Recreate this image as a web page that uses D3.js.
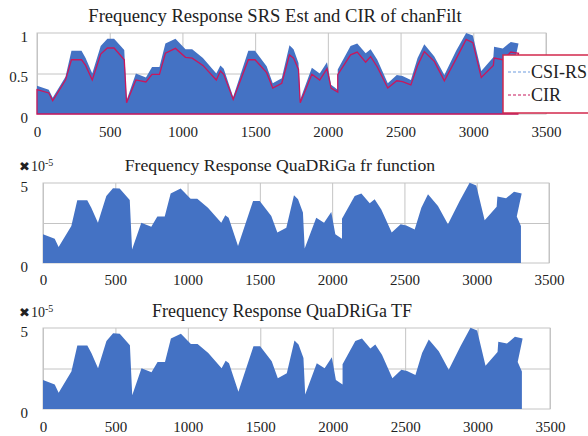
<!DOCTYPE html>
<html>
<head>
<meta charset="utf-8">
<script src="https://cdn.jsdelivr.net/npm/d3@7"></script>
<style>
  body { margin: 0; background: #fff; }
  svg text { font-family: "Liberation Serif", "DejaVu Serif", serif; fill: #222; }
</style>
</head>
<body>
<div id="chart-container"></div>
<script>
// subcarrier positions of the read-off vertices (shared by every curve)
const subcarrier = [0, 81, 108, 196, 237, 306, 334, 380, 438, 484, 530, 600, 616, 680, 749, 791, 842, 883, 952, 1021,
  1067, 1141, 1233, 1261, 1284, 1349, 1453, 1499, 1579, 1621, 1683, 1736, 1764, 1798, 1810, 1890, 1944, 1994, 2022, 2068,
  2068, 2156, 2202, 2260, 2294, 2340, 2412, 2474, 2513, 2571, 2617, 2663, 2732, 2801, 2882, 2951, 2997, 3055, 3138, 3143,
  3203, 3258, 3311, 3277, 3306];

// top panel, normalised magnitude
const csiRs = [0.35, 0.30, 0.20, 0.46, 0.78, 0.78, 0.69, 0.50, 0.84, 0.93, 0.93, 0.79, 0.17, 0.50, 0.45, 0.58, 0.58, 0.87, 0.93, 0.80,
  0.80, 0.69, 0.50, 0.60, 0.56, 0.21, 0.78, 0.78, 0.59, 0.38, 0.44, 0.85, 0.80, 0.63, 0.18, 0.57, 0.50, 0.64, 0.36, 0.30,
  0.55, 0.84, 0.87, 0.75, 0.80, 0.67, 0.38, 0.48, 0.47, 0.42, 0.69, 0.86, 0.71, 0.48, 0.78, 1.00, 0.97, 0.53, 0.70, 0.83,
  0.81, 0.89, 0.87, 0.58, 0.46];
const cir = [0.30, 0.26, 0.165, 0.42, 0.67, 0.67, 0.60, 0.42, 0.74, 0.815, 0.815, 0.67, 0.14, 0.42, 0.395, 0.49, 0.49, 0.75, 0.81, 0.70,
  0.69, 0.60, 0.42, 0.53, 0.49, 0.18, 0.67, 0.67, 0.51, 0.32, 0.38, 0.73, 0.69, 0.55, 0.14, 0.49, 0.42, 0.56, 0.32, 0.27,
  0.485, 0.73, 0.765, 0.64, 0.71, 0.58, 0.32, 0.41, 0.40, 0.36, 0.60, 0.77, 0.65, 0.41, 0.68, 0.92, 0.88, 0.45, 0.60, 0.69,
  0.67, 0.765, 0.75, 0.50, 0.40];

// QuaDRiGa panels, x 1e-5
const qdFr = [1.79, 1.52, 1.00, 2.31, 3.92, 3.92, 3.46, 2.52, 4.19, 4.67, 4.65, 3.94, 0.85, 2.52, 2.27, 2.90, 2.90, 4.35, 4.65, 4.02,
  4.02, 3.46, 2.52, 2.98, 2.83, 1.06, 3.88, 3.88, 2.94, 1.90, 2.21, 4.23, 3.98, 3.15, 0.90, 2.83, 2.52, 3.19, 1.79, 1.52,
  2.77, 4.19, 4.35, 3.73, 3.98, 3.35, 1.90, 2.42, 2.35, 2.10, 3.46, 4.29, 3.56, 2.42, 3.88, 5.02, 4.85, 2.67, 3.52, 4.15,
  4.04, 4.46, 4.35, 2.90, 2.31];
const qdTf = [1.79, 1.52, 1.00, 2.31, 3.92, 3.92, 3.46, 2.52, 4.19, 4.67, 4.65, 3.94, 0.85, 2.52, 2.27, 2.90, 2.90, 4.35, 4.65, 4.02,
  4.02, 3.46, 2.52, 2.98, 2.83, 1.06, 3.88, 3.88, 2.94, 1.90, 2.21, 4.23, 3.98, 3.15, 0.90, 2.83, 2.52, 3.19, 1.79, 1.52,
  2.77, 4.19, 4.35, 3.73, 3.98, 3.35, 1.90, 2.42, 2.35, 2.10, 3.46, 4.29, 3.56, 2.42, 3.88, 5.02, 4.85, 2.67, 3.52, 4.15,
  4.04, 4.46, 4.35, 2.90, 2.31];

const xTicks = [0, 500, 1000, 1500, 2000, 2500, 3000, 3500];
const titles = ["Frequency Response SRS Est and CIR of chanFilt",
  "Frequency Response QuaDRiGa fr function",
  "Frequency Response QuaDRiGa TF"];
const legendLabels = ["CSI-RS", "CIR"];

const blue = "#4472c4";
const red = "#c8175d";
const grid = "#c4c4c4";
const serif = "'Liberation Serif', 'DejaVu Serif', serif";

const svg = d3.select("#chart-container").append("svg")
  .attr("width", 588).attr("height", 436);

function panel(opt) {
  const x = d3.scaleLinear().domain([0, 3500]).range([opt.left, opt.right]);
  const y = d3.scaleLinear().domain([0, opt.yMax]).range([opt.bottom, opt.top]);
  const g = svg.append("g");

  // gridlines
  g.append("g")
    .attr("transform", `translate(0,${opt.bottom})`)
    .call(d3.axisBottom(x).tickValues(xTicks).tickSize(-(opt.bottom - opt.top)).tickFormat(""))
    .call(s => s.select(".domain").remove())
    .call(s => s.selectAll("line").attr("stroke", grid));
  g.append("g")
    .attr("transform", `translate(${opt.left},0)`)
    .call(d3.axisLeft(y).tickValues(opt.gridY).tickSize(-(opt.right - opt.left)).tickFormat(""))
    .call(s => s.select(".domain").remove())
    .call(s => s.selectAll("line").attr("stroke", grid));
  g.append("rect")
    .attr("x", opt.left).attr("y", opt.top)
    .attr("width", opt.right - opt.left).attr("height", opt.bottom - opt.top)
    .attr("fill", "none").attr("stroke", grid);

  const area = d3.area()
    .x((d, i) => x(subcarrier[i]))
    .y0(y(0))
    .y1(d => y(d));

  g.append("path").datum(opt.values).attr("d", area).attr("fill", blue);
  if (opt.line) {
    g.append("path").datum(opt.line).attr("d", area)
      .attr("fill", "none").attr("stroke", red).attr("stroke-width", 1.3);
  }

  // tick labels
  g.append("g")
    .attr("transform", `translate(0,${opt.bottom})`)
    .call(d3.axisBottom(x).tickValues(xTicks).tickSize(0).tickPadding(opt.xPad).tickFormat(d3.format("d")))
    .call(s => s.select(".domain").remove())
    .call(s => s.selectAll("text").style("font-family", serif).style("font-size", "15px").attr("fill", "#222"));
  g.append("g")
    .attr("transform", `translate(${opt.labelX},0)`)
    .call(d3.axisLeft(y).tickValues(opt.labelY).tickSize(0).tickPadding(0).tickFormat(d => String(d)))
    .call(s => s.select(".domain").remove())
    .call(s => s.selectAll("text").style("font-family", serif).style("font-size", "15px")
      .attr("fill", "#222").attr("dy", "0.55em"));

  g.append("text")
    .attr("x", opt.titleX).attr("y", opt.titleY)
    .attr("text-anchor", "middle").style("font-size", opt.titleSize + "px")
    .text(opt.title);

  if (opt.exponent) {
    const t = g.append("text").attr("x", 19).attr("y", opt.titleY).style("font-size", "14px");
    t.append("tspan").style("font-family", "'DejaVu Sans'").style("font-size", "13px").text("\u2716");
    t.append("tspan").attr("dx", 1).text("10");
    t.append("tspan").attr("dy", -5).style("font-size", "10px").text("-5");
  }
  return g;
}

panel({ left: 37, right: 546, top: 33, bottom: 114, yMax: 1, gridY: [0.5], labelY: [0, 0.5, 1],
  labelX: 28, xPad: 12, values: csiRs, line: cir, title: titles[0], titleX: 275, titleY: 22, titleSize: 18.6 });
panel({ left: 43, right: 549, top: 183, bottom: 263, yMax: 5, gridY: [2.5], labelY: [0, 5],
  labelX: 28, xPad: 11, values: qdFr, title: titles[1], titleX: 280, titleY: 171, titleSize: 17.7, exponent: true });
panel({ left: 43, right: 550, top: 328, bottom: 409, yMax: 5, gridY: [2.5], labelY: [0, 5],
  labelX: 28, xPad: 12, values: qdTf, title: titles[2], titleX: 282, titleY: 317, titleSize: 18, exponent: true });

// legend of the top panel (runs off the right edge)
const lg = svg.append("g");
lg.append("rect").attr("x", 503).attr("y", 55).attr("width", 110).attr("height", 58)
  .attr("fill", "#fff").attr("stroke", "#d2284c").attr("stroke-width", 1.5);
[["#6d9be0", 72], [red, 95]].forEach((e, i) => {
  lg.append("line").attr("x1", 508).attr("x2", 530).attr("y1", e[1]).attr("y2", e[1])
    .attr("stroke", e[0]).attr("stroke-width", 1.2).attr("stroke-dasharray", "3,2");
  lg.append("text").attr("x", 531).attr("y", e[1] + 6).style("font-size", "18px").text(legendLabels[i]);
});
</script>
</body>
</html>
